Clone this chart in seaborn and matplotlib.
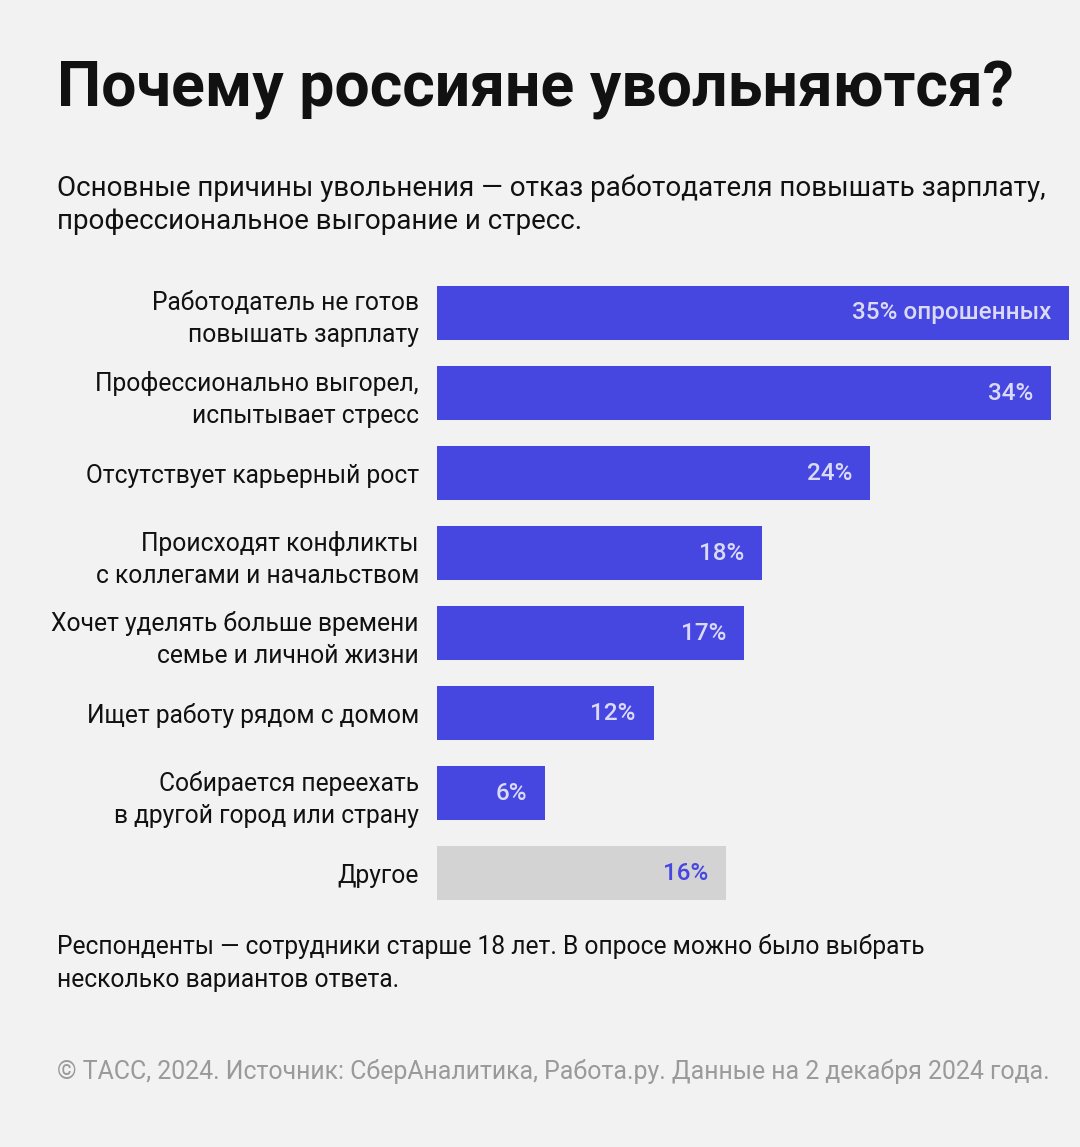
import matplotlib.pyplot as plt
import pandas as pd
import seaborn as sns

sns.set_theme(style="white")
plt.rcParams["font.family"] = ["Roboto", "DejaVu Sans"]

# Dati
categorie = [
    "Работодатель не готов\nповышать зарплату",
    "Профессионально выгорел,\nиспытывает стресс",
    "Отсутствует карьерный рост",
    "Происходят конфликты\nс коллегами и начальством",
    "Хочет уделять больше времени\nсемье и личной жизни",
    "Ищет работу рядом с домом",
    "Собирается переехать\nв другой город или страну",
    "Другое",
]
valori = [35, 34, 24, 18, 17, 12, 6, 16]
etichette = ["35% опрошенных", "34%", "24%", "18%", "17%", "12%", "6%", "16%"]
gruppo = ["main"] * 7 + ["other"]

df = pd.DataFrame({"categoria": categorie, "valore": valori, "gruppo": gruppo})

BG = "#f2f2f2"
BLU = "#4646e0"
GRIGIO = "#d3d3d3"

W, H = 1080, 1147
fig = plt.figure(figsize=(W / 100, H / 100), dpi=100, facecolor=BG)
ax = fig.add_axes([437 / W, 1 - 913 / H, (1069 - 437) / W, 640 / H])
ax.set_facecolor(BG)

sns.barplot(
    data=df, y="categoria", x="valore", hue="gruppo",
    palette={"main": BLU, "other": GRIGIO}, saturation=1,
    width=0.675, legend=False, ax=ax, orient="h", linewidth=0,
)

ax.set_xlim(0, 35)
ax.set_ylim(7.5, -0.5)
ax.set_xlabel("")
ax.set_ylabel("")
ax.set_xticks([])
for s in ax.spines.values():
    s.set_visible(False)
ax.tick_params(axis="y", length=0, pad=13)
for t in ax.get_yticklabels():
    t.set_fontsize(17.7)
    t.set_color("#111111")
    t.set_linespacing(1.4)

# Etichette sulle barre
for i, (v, lab) in enumerate(zip(valori, etichette)):
    col = "#dadaf7" if gruppo[i] == "main" else BLU
    ax.annotate(lab, (v, i), xytext=(-13, 0), textcoords="offset points",
                ha="right", va="center", fontsize=17.5, color=col, fontweight="medium")

# Testi
fig.text(57 / W, 1 - 107 / H, "Почему россияне увольняются?", fontsize=45,
         fontweight="bold", color="#111111", va="baseline")
fig.text(57 / W, 1 - 205 / H,
         "Основные причины увольнения — отказ работодателя повышать зарплату,\n"
         "профессиональное выгорание и стресс.",
         fontsize=20, color="#111111", va="center", linespacing=1.27)
fig.text(57 / W, 1 - 963 / H,
         "Респонденты — сотрудники старше 18 лет. В опросе можно было выбрать\n"
         "несколько вариантов ответа.",
         fontsize=17.7, color="#111111", va="center", linespacing=1.5)
fig.text(57 / W, 1 - 1072 / H,
         "© ТАСС, 2024. Источник: СберАналитика, Работа.ру. Данные на 2 декабря 2024 года.",
         fontsize=17.9, color="#9a9a9a", va="center")

fig.savefig("out.png", dpi=100, facecolor=BG)
